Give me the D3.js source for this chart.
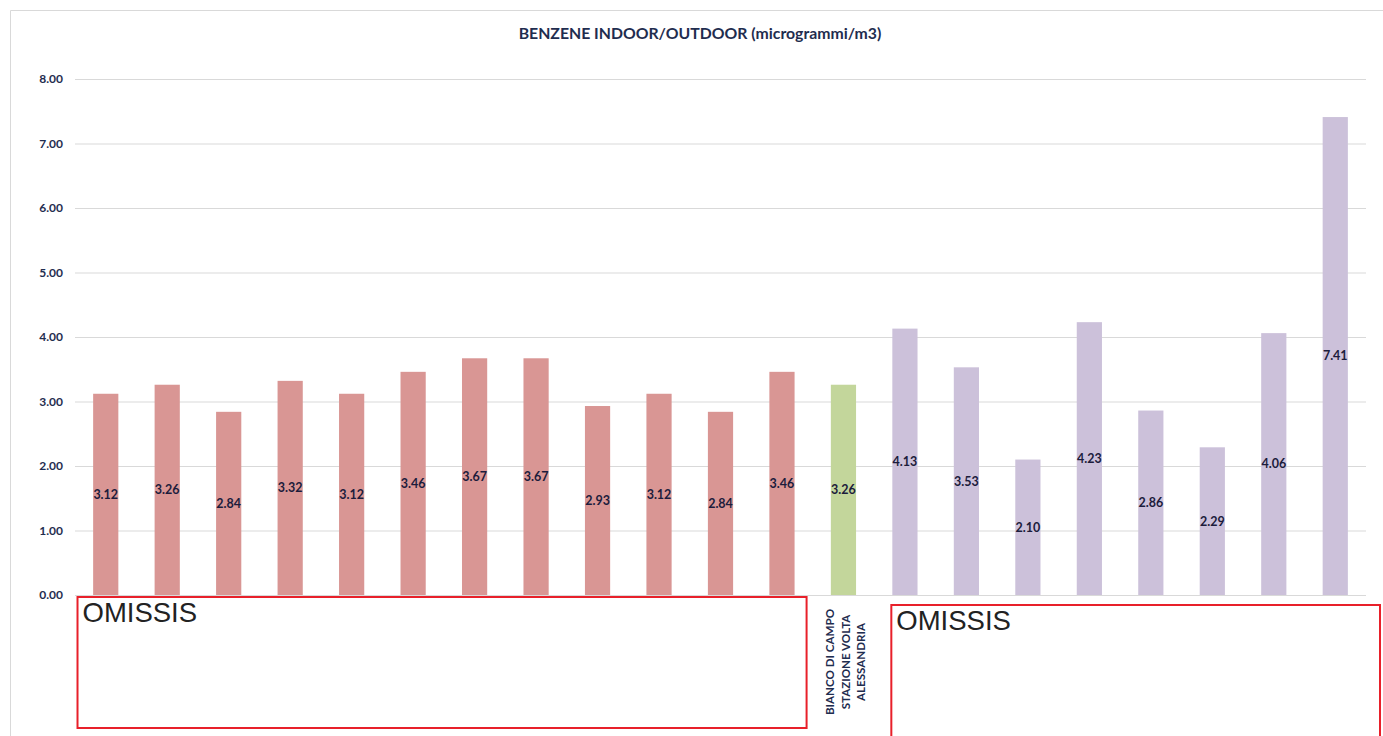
<!DOCTYPE html>
<html>
<head>
<meta charset="utf-8">
<script src="https://cdn.jsdelivr.net/npm/d3@7"></script>
<style>
  html, body { margin: 0; padding: 0; background: #fff; }
  svg { display: block; }
</style>
</head>
<body>
<svg id="chart" width="1383" height="736"></svg>
<script>
// Benzene concentrations (µg/m3), one value per sampling point
const indoorIds = ["I1","I2","I3","I4","I5","I6","I7","I8","I9","I10","I11","I12"];
const indoorValues = [3.12, 3.26, 2.84, 3.32, 3.12, 3.46, 3.67, 3.67, 2.93, 3.12, 2.84, 3.46];
const blankIds = ["B1"];
const blankValues = [3.26];
const blankLabel = ["BIANCO DI CAMPO", "STAZIONE VOLTA", "ALESSANDRIA"];
const outdoorIds = ["O1","O2","O3","O4","O5","O6","O7","O8"];
const outdoorValues = [4.13, 3.53, 2.10, 4.23, 2.86, 2.29, 4.06, 7.41];
const yTicks = [0, 1, 2, 3, 4, 5, 6, 7, 8];
const title = "BENZENE INDOOR/OUTDOOR (microgrammi/m3)";
const maskText = "OMISSIS";

const colors = { indoor: "#d99694", blank: "#c3d69b", outdoor: "#ccc1da" };

const rows = [
  ...indoorIds.map((id, i) => ({ id, v: indoorValues[i], g: "indoor" })),
  ...blankIds.map((id, i) => ({ id, v: blankValues[i], g: "blank" })),
  ...outdoorIds.map((id, i) => ({ id, v: outdoorValues[i], g: "outdoor" }))
];

const svg = d3.select("#chart");
const fontMain = "Lato, 'Open Sans', sans-serif";
const navy = "#1f2d4f";

// outer chart frame
svg.append("path")
  .attr("d", "M10.5,736 V10.5 H1383")
  .attr("fill", "none").attr("stroke", "#d9d9d9").attr("stroke-width", 1);

const plot = { left: 75, right: 1366, top: 79, bottom: 595 };

const x = d3.scaleBand()
  .domain(rows.map(d => d.id))
  .range([plot.left, plot.right])
  .paddingInner(0.59).paddingOuter(0.295);

const y = d3.scaleLinear().domain([0, 8]).range([plot.bottom, plot.top]);

// horizontal gridlines + y labels
const yAxis = d3.axisLeft(y).tickValues(yTicks).tickFormat(d3.format(".2f"))
  .tickSize(-(plot.right - plot.left)).tickPadding(12);
const ga = svg.append("g").attr("transform", `translate(${plot.left},0)`).call(yAxis);
ga.select(".domain").remove();
ga.selectAll(".tick line").attr("stroke", "#d9d9d9").attr("stroke-width", 1);
ga.selectAll(".tick text")
  .attr("fill", navy).attr("font-family", fontMain)
  .attr("font-weight", 700).attr("font-size", 12);

// bars
svg.append("g").selectAll("rect").data(rows).join("rect")
  .attr("x", d => x(d.id))
  .attr("width", x.bandwidth())
  .attr("y", d => y(d.v))
  .attr("height", d => y(0) - y(d.v))
  .attr("fill", d => colors[d.g]);

// value labels, centred inside each bar
svg.append("g").selectAll("text").data(rows).join("text")
  .attr("x", d => x(d.id) + x.bandwidth() / 2)
  .attr("y", d => (y(d.v) + y(0)) / 2)
  .attr("dy", "0.35em")
  .attr("text-anchor", "middle")
  .attr("fill", "#1c1c3c")
  .attr("font-family", fontMain).attr("font-weight", 700).attr("font-size", 12.5)
  .text(d => d.v.toFixed(2));

// title
svg.append("text")
  .attr("x", 700).attr("y", 39)
  .attr("text-anchor", "middle")
  .attr("fill", navy)
  .attr("font-family", fontMain).attr("font-weight", 700).attr("font-size", 15.8)
  .text(title);

// rotated category label for the field blank
const bx = x(blankIds[0]) + x.bandwidth() / 2;
const lbl = svg.append("text")
  .attr("transform", `translate(${bx + 2},662) rotate(-90)`)
  .attr("text-anchor", "middle")
  .attr("fill", navy)
  .attr("font-family", fontMain).attr("font-weight", 700).attr("font-size", 11.6);
blankLabel.forEach((line, i) => {
  lbl.append("tspan").attr("x", 0).attr("y", (i - 1) * 16).attr("dy", "0.35em").text(line);
});

// masked category label areas
const masks = [
  { x0: x(indoorIds[0]) - x.bandwidth() * 0.62, x1: x(indoorIds[indoorIds.length - 1]) + x.bandwidth() + 12, y0: 597, y1: 728 },
  { x0: x(outdoorIds[0]) - 1, x1: 1380, y0: 605, y1: 745 }
];
masks.forEach(m => {
  svg.append("rect")
    .attr("x", m.x0).attr("y", m.y0)
    .attr("width", m.x1 - m.x0).attr("height", m.y1 - m.y0)
    .attr("fill", "none").attr("stroke", "#e8202a").attr("stroke-width", 2);
  svg.append("text")
    .attr("x", m.x0 + 5).attr("y", m.y0 + 25)
    .attr("fill", "#222")
    .attr("font-family", "'Liberation Sans', Arial, sans-serif").attr("font-size", 27.5)
    .text(maskText);
});
</script>
</body>
</html>
